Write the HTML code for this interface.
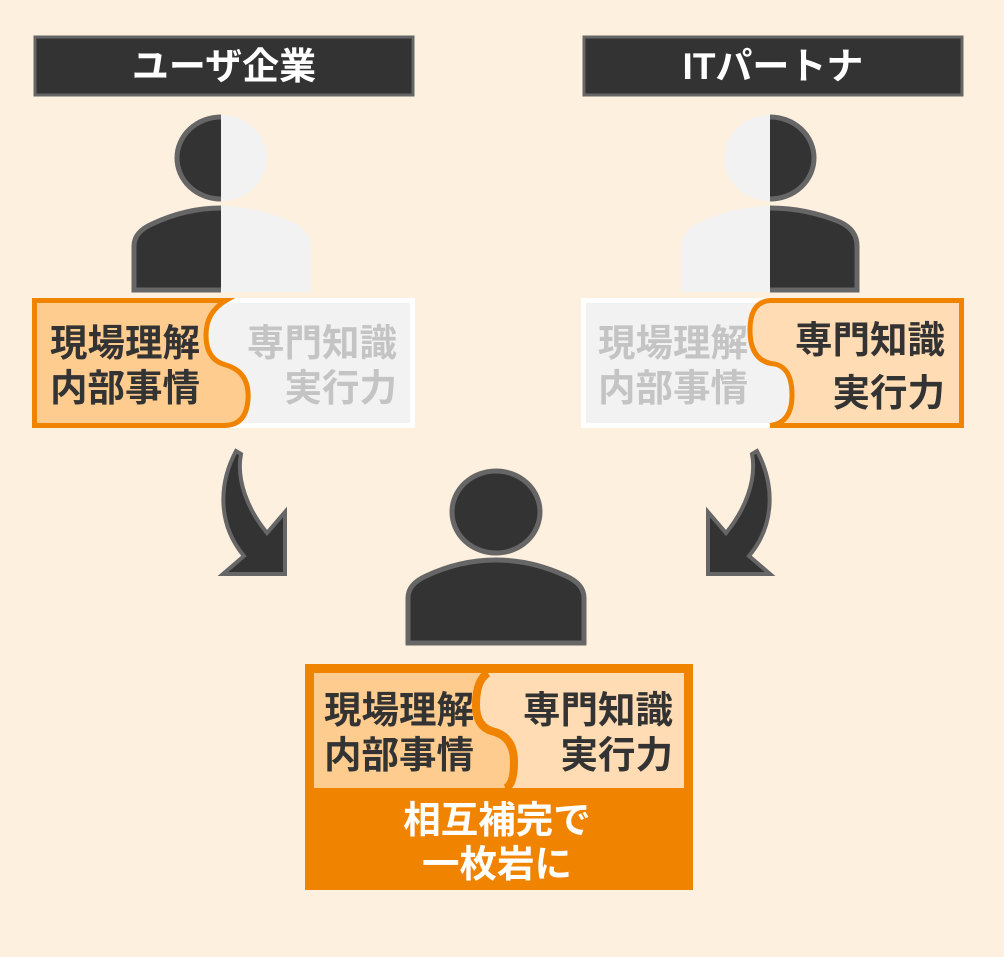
<!DOCTYPE html>
<html><head><meta charset="utf-8"><style>
html,body{margin:0;padding:0;background:#FEF0DF;}
svg{display:block}
text{font-family:"Liberation Sans","Noto Sans CJK JP",sans-serif;font-weight:bold;}
</style></head><body>
<svg width="1004" height="957" viewBox="0 0 1004 957" xmlns="http://www.w3.org/2000/svg">
<defs>
<clipPath id="lL"><rect x="0" y="0" width="221" height="300"/></clipPath>
<clipPath id="lR"><rect x="221" y="0" width="300" height="300"/></clipPath>
<clipPath id="rL"><rect x="500" y="0" width="270" height="300"/></clipPath>
<clipPath id="rR"><rect x="770" y="0" width="300" height="300"/></clipPath>
</defs>
<rect width="1004" height="957" fill="#FEF0DF"/>
<!-- headers -->
<rect x="35" y="37" width="378" height="58" fill="#333" stroke="#666" stroke-width="3"/>
<text x="224" y="79" font-size="37" fill="#fff" text-anchor="middle">ユーザ企業</text>
<rect x="584" y="37" width="378" height="58" fill="#333" stroke="#666" stroke-width="3"/>
<text x="773" y="79" font-size="37" fill="#fff" text-anchor="middle">ITパートナ</text>

<!-- left person -->
<g clip-path="url(#lR)" fill="#F2F2F2">
<ellipse cx="221" cy="158" rx="46" ry="43"/>
<path d="M131,292 V246 Q131,230 150,222 Q185,206 221,206 Q257,206 292,222 Q311,230 311,246 V292 Z"/>
</g>
<g clip-path="url(#lL)" fill="#333" stroke="#666" stroke-width="5">
<ellipse cx="221" cy="158" rx="44" ry="41"/>
<path d="M134,290 V246 Q134,232 152,224 Q186,208 221,208 Q257,208 292,222 Q309,230 309,246 V290 Z"/>
</g>
<!-- right person -->
<g clip-path="url(#rL)" fill="#F2F2F2">
<ellipse cx="770" cy="158" rx="46" ry="43"/>
<path d="M681,292 V246 Q681,230 700,222 Q735,206 770,206 Q806,206 841,222 Q860,230 860,246 V292 Z"/>
</g>
<g clip-path="url(#rR)" fill="#333" stroke="#666" stroke-width="5">
<ellipse cx="770" cy="158" rx="44" ry="41"/>
<path d="M683,290 V246 Q683,232 701,224 Q735,208 770,208 Q806,208 840,222 Q857,230 857,246 V290 Z"/>
</g>

<!-- left box -->
<rect x="34.5" y="300.5" width="378" height="125" fill="#F2F2F2" stroke="#fff" stroke-width="5"/>
<path d="M34.5,300.5 H226 Q206,312 206,335 Q206,360 226,365 Q250,372 248,400 Q246,425 225,425.5 H34.5 Z" fill="#FFCC8F" stroke="#F08300" stroke-width="5"/>
<text x="50" y="356" font-size="37.5" fill="#333">現場理解</text>
<text x="50" y="401" font-size="37.5" fill="#333">内部事情</text>
<text x="397" y="356" font-size="37.5" fill="#C4C4C4" text-anchor="end">専門知識</text>
<text x="397" y="401" font-size="37.5" fill="#C4C4C4" text-anchor="end">実行力</text>

<!-- right box -->
<rect x="583.5" y="300.5" width="378" height="125" fill="#F2F2F2" stroke="#fff" stroke-width="5"/>
<path d="M961.5,300.5 H770 Q750,302 750,330 Q750,362 775,364 Q792,368 792,395 Q792,423 770,425.5 H961.5 Z" fill="#FFDCB3" stroke="#F08300" stroke-width="5"/>
<text x="598" y="356" font-size="37.5" fill="#C4C4C4">現場理解</text>
<text x="598" y="401" font-size="37.5" fill="#C4C4C4">内部事情</text>
<text x="945" y="353" font-size="37.5" fill="#333" text-anchor="end">専門知識</text>
<text x="945" y="406" font-size="37.5" fill="#333" text-anchor="end">実行力</text>

<!-- arrows -->
<path d="M236,451 C218,485 218,525 244,556 L223,574 L285,574 L285,512 L267,533 C248,510 236,480 241,454 Z" fill="#333" stroke="#666" stroke-width="4"/>
<path d="M236,451 C218,485 218,525 244,556 L223,574 L285,574 L285,512 L267,533 C248,510 236,480 241,454 Z" fill="#333" stroke="#666" stroke-width="4" transform="translate(993,0) scale(-1,1)"/>

<!-- center person -->
<ellipse cx="496" cy="512" rx="44" ry="41" fill="#333" stroke="#666" stroke-width="5"/>
<path d="M408,643 V598 Q408,584 426,576 Q460,560 496,560 Q532,560 566,576 Q584,584 584,598 V643 Z" fill="#333" stroke="#666" stroke-width="5"/>

<!-- bottom box -->
<rect x="305" y="664" width="388" height="226" fill="#F08300"/>
<rect x="314" y="673" width="370" height="115" fill="#FFDCB3"/>
<path d="M314,673 H488 Q476,680 476,705 Q476,728 495,732 Q514,738 514,762 Q514,786 505,788 H314 Z" fill="#FFCC8F"/>
<path d="M488,673 Q476,680 476,705 Q476,728 495,732 Q514,738 514,762 Q514,786 505,788" fill="none" stroke="#F08300" stroke-width="8"/>
<text x="324" y="723" font-size="37.5" fill="#333">現場理解</text>
<text x="324" y="768" font-size="37.5" fill="#333">内部事情</text>
<text x="673" y="723" font-size="37.5" fill="#333" text-anchor="end">専門知識</text>
<text x="673" y="768" font-size="37.5" fill="#333" text-anchor="end">実行力</text>
<text x="497" y="833" font-size="37.5" fill="#fff" text-anchor="middle">相互補完で</text>
<text x="497" y="877" font-size="37.5" fill="#fff" text-anchor="middle">一枚岩に</text>
</svg>
</body></html>
